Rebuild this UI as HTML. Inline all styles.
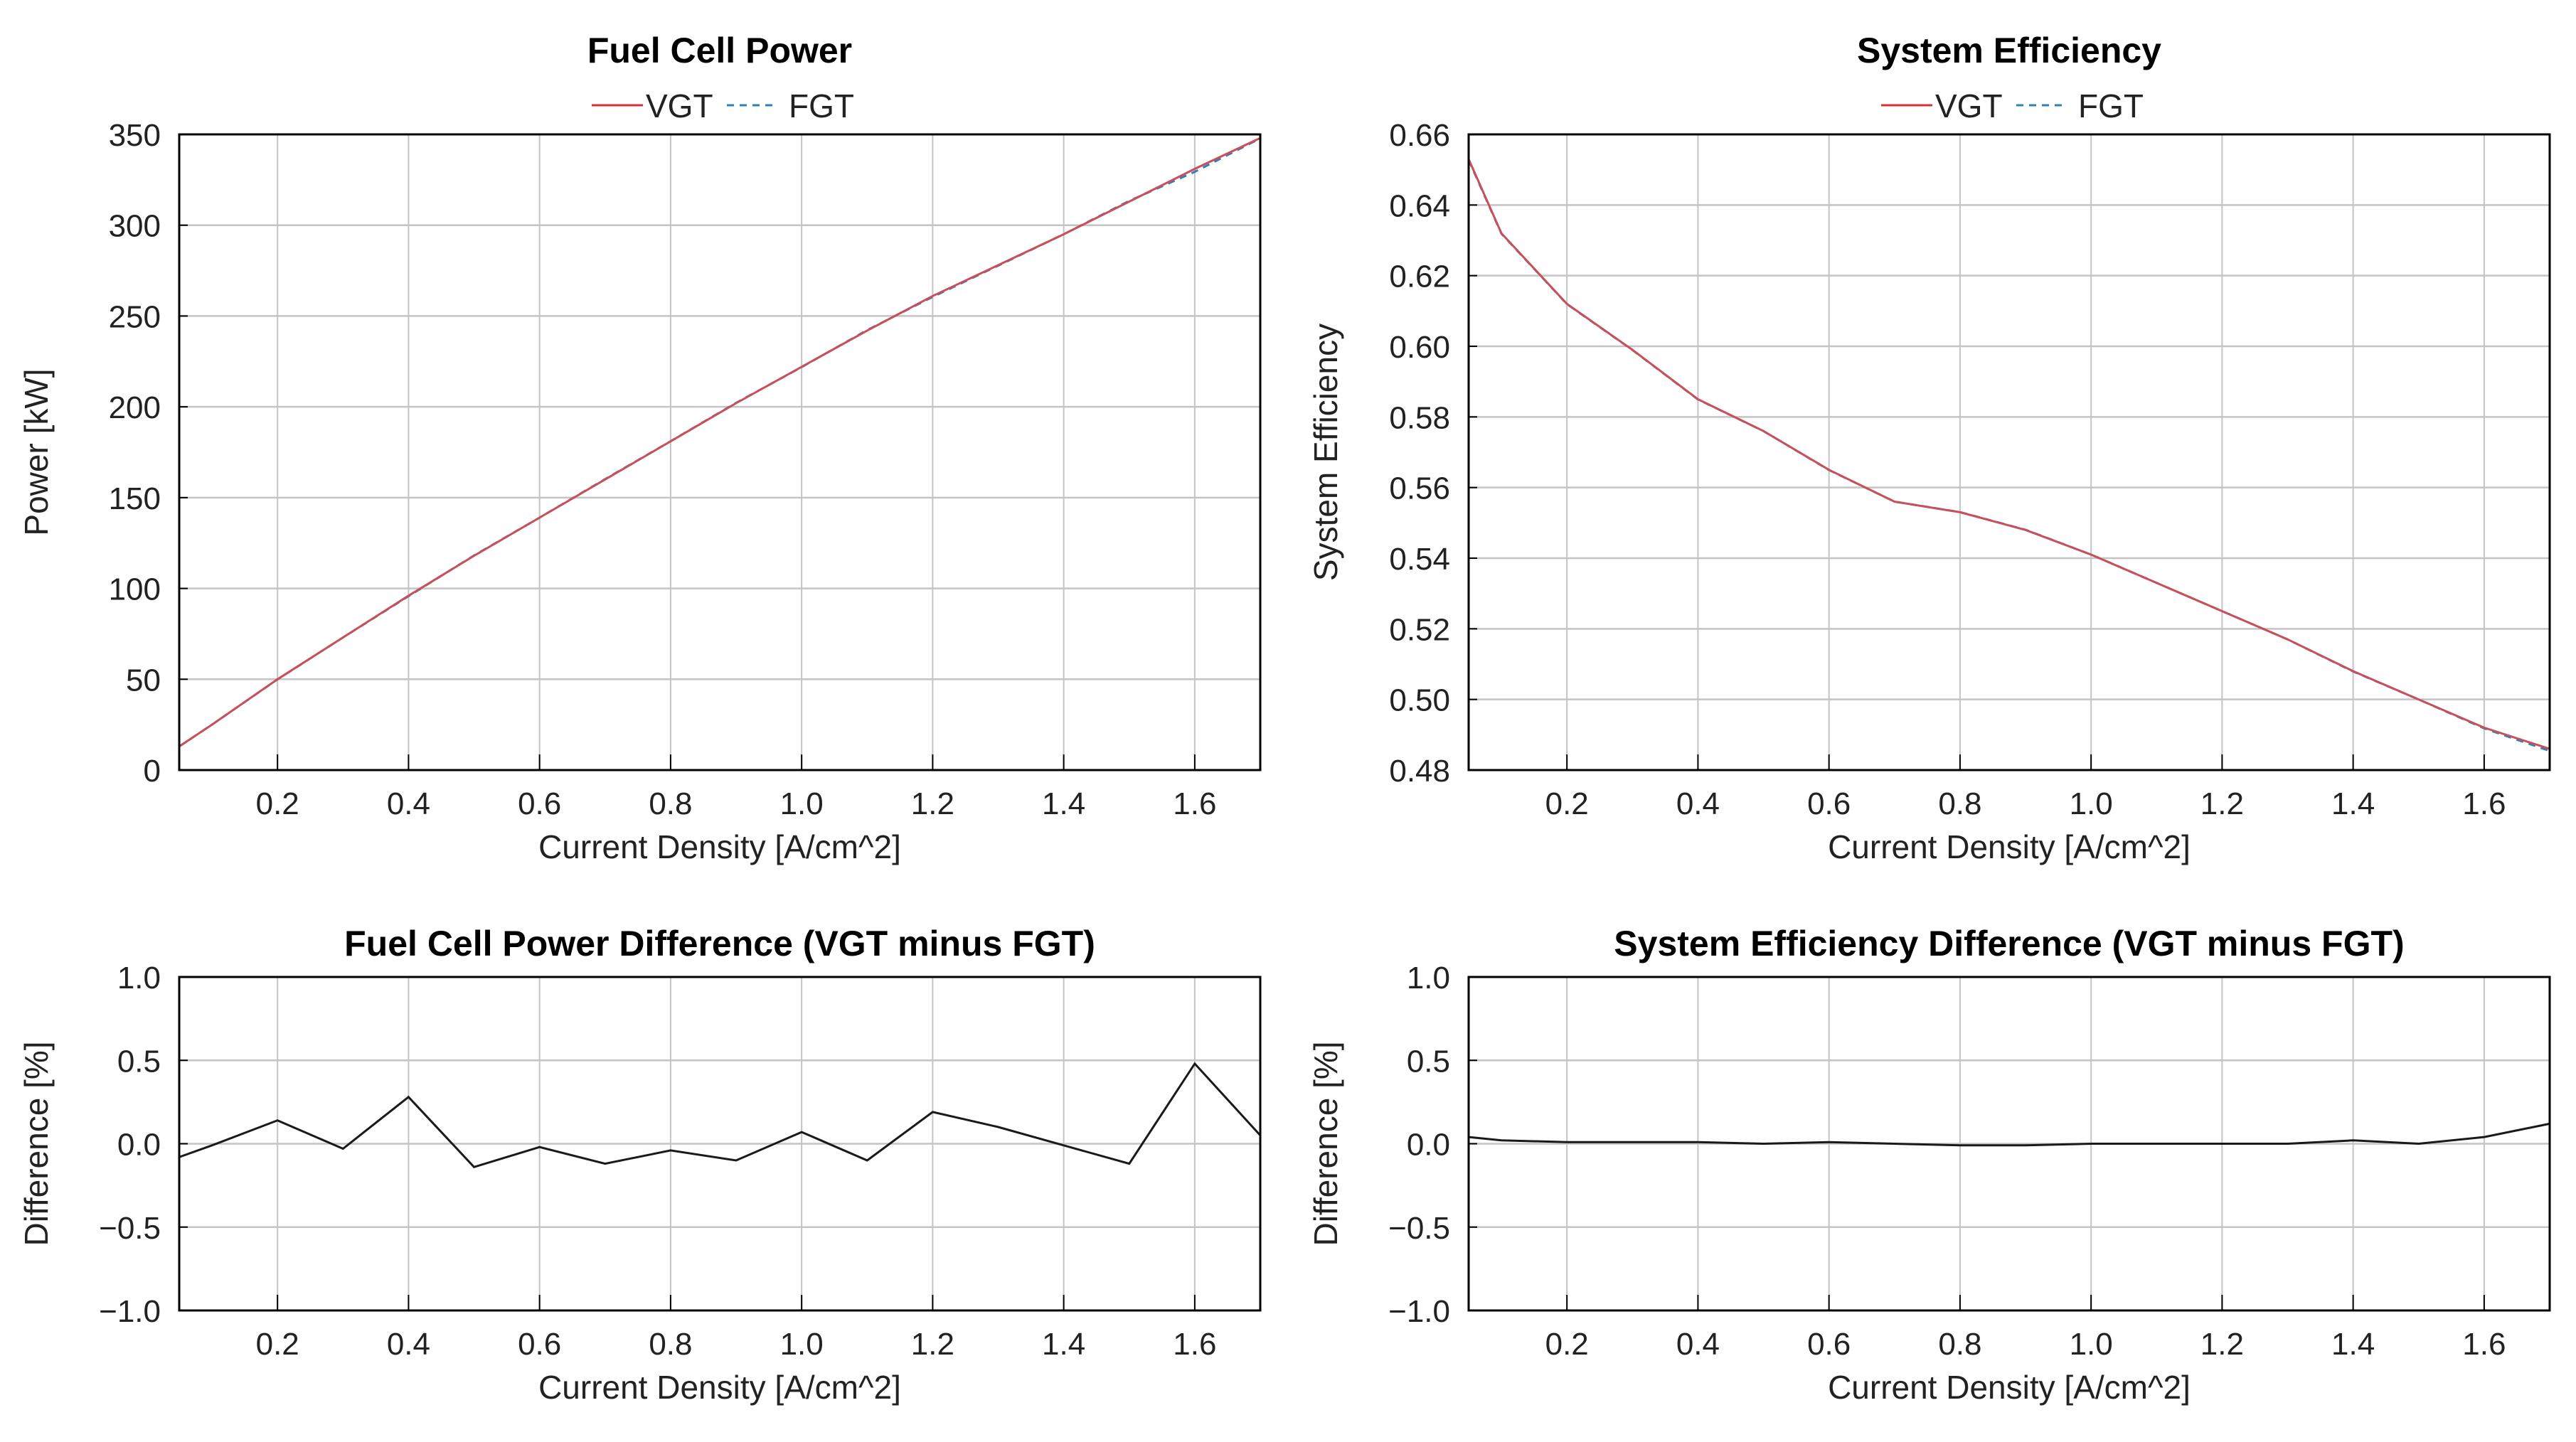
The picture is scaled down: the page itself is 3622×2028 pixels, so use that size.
<!DOCTYPE html>
<html><head><meta charset="utf-8"><style>
html,body{margin:0;padding:0;background:#fff;}
svg{display:block;font-family:"Liberation Sans",Arial,sans-serif;}
</style></head><body>
<svg id="chart" width="3622" height="2028" viewBox="0 0 3622 2028" xmlns="http://www.w3.org/2000/svg"></svg>
<script>
const currentDensity = [0.05,0.1,0.2,0.3,0.4,0.5,0.6,0.7,0.8,0.9,1.0,1.1,1.2,1.3,1.4,1.5,1.6,1.7];
const powerVGT = [13,25,50,73,96,118,139,160,181,202,222,242,261,278,295,313,331,348];
const powerDiff = [-0.08,-0.01,0.14,-0.03,0.28,-0.14,-0.02,-0.12,-0.04,-0.10,0.07,-0.10,0.19,0.10,-0.01,-0.12,0.48,0.05];
const effVGT = [0.653,0.632,0.612,0.599,0.585,0.576,0.565,0.556,0.553,0.548,0.541,0.533,0.525,0.517,0.508,0.500,0.492,0.486];
const effDiff = [0.04,0.02,0.01,0.01,0.01,0.00,0.01,0.00,-0.01,-0.01,0.00,0.00,0.00,0.00,0.02,0.00,0.04,0.12];
const xTicks = [0.2,0.4,0.6,0.8,1.0,1.2,1.4,1.6];
const powerTicks = [0,50,100,150,200,250,300,350];
const effTicks = [0.48,0.50,0.52,0.54,0.56,0.58,0.60,0.62,0.64,0.66];
const diffTicks = [-1.0,-0.5,0.0,0.5,1.0];

const NS="http://www.w3.org/2000/svg";
const svg=document.getElementById('chart');
function mk(tag,attrs,parent,text){const e=document.createElementNS(NS,tag);for(const k in attrs)e.setAttribute(k,attrs[k]);if(text!==undefined)e.textContent=text;(parent||svg).appendChild(e);return e;}

function panel(o){
  const g=mk('g',{});
  
  
  const X=v=>o.x0+(v-0.05)/(1.7-0.05)*(o.x1-o.x0);
  const Y=v=>o.y1-(v-o.ymin)/(o.ymax-o.ymin)*(o.y1-o.y0);
  xTicks.forEach(t=>{
    const l=mk('line',{x1:X(t),x2:X(t),y1:o.y0,y2:o.y1,stroke:'#c4c4c4','stroke-width':2},g);
    
    
    const tk=mk('line',{x1:X(t),x2:X(t),y1:o.y1-22,y2:o.y1,stroke:'#000','stroke-width':2},g);
    
    
    const tx=mk('text',{x:X(t),y:o.y1+62,'text-anchor':'middle','font-size':44,fill:'#222'},g,t.toFixed(1));
    
    
  });
  o.yt.forEach(t=>{
    const l=mk('line',{x1:o.x0,x2:o.x1,y1:Y(t),y2:Y(t),stroke:'#c4c4c4','stroke-width':2.5},g);
    
    
    const tk=mk('line',{x1:o.x0,x2:o.x0+12,y1:Y(t),y2:Y(t),stroke:'#000','stroke-width':2},g);
    
    
    const tx=mk('text',{x:o.x0-26,y:Y(t)+16,'text-anchor':'end','font-size':44,fill:'#222'},g,t.toFixed(o.dec).replace('-','\u2212'));
    
    
  });
  o.series.forEach(s=>{
    const pts=currentDensity.map((c,i)=>X(c).toFixed(1)+','+Y(s.vals[i]).toFixed(1)).join(' ');
    const p=mk('polyline',{points:pts,fill:'none',stroke:s.color,'stroke-width':s.w||3,'stroke-dasharray':s.dash||'none'},g);
    
    
  });
  const fr=mk('rect',{x:o.x0,y:o.y0,width:o.x1-o.x0,height:o.y1-o.y0,fill:'none',stroke:'#000','stroke-width':3},g);
  
  
  const cx=(o.x0+o.x1)/2;
  const ti=mk('text',{x:cx,y:o.titleY,'text-anchor':'middle','font-size':50,'font-weight':'bold',fill:'#000'},g,o.title);
  
  
  const xl=mk('text',{x:cx,y:o.y1+124,'text-anchor':'middle','font-size':46,fill:'#222'},g,'Current Density [A/cm^2]');
  
  
  const ym=(o.y0+o.y1)/2;
  const yl=mk('text',{x:o.x0-185,y:ym,'text-anchor':'middle','font-size':46,fill:'#222',transform:`rotate(-90 ${o.x0-185} ${ym})`},g,o.ylabel);
  
  
  if(o.legend){
    const lg=mk('g',{},g);
    
    
    const ly=148, lx=cx-180;
    mk('line',{x1:lx,x2:lx+72,y1:ly,y2:ly,stroke:'#d0343a','stroke-width':3},lg);
    const t1=mk('text',{x:lx+76,y:ly+17,'font-size':46,fill:'#222'},lg,'VGT');
    
    
    mk('line',{x1:lx+190,x2:lx+258,y1:ly,y2:ly,stroke:'#2f7fb8','stroke-width':3,'stroke-dasharray':'10,8'},lg);
    const t2=mk('text',{x:lx+277,y:ly+17,'font-size':46,fill:'#222'},lg,'FGT');
    
    
  }
}
const powerFGT = powerVGT.map((v,i)=>v/(1+powerDiff[i]/100));
const effFGT = effVGT.map((v,i)=>v/(1+effDiff[i]/100));
const L={x0:252,x1:1772}, R={x0:2065,x1:3585};
const T={y0:189,y1:1083}, B={y0:1374,y1:1843};
panel({name:'fuel-cell-power-panel',x0:L.x0,x1:L.x1,y0:T.y0,y1:T.y1,ymin:0,ymax:350,yt:powerTicks,dec:0,title:'Fuel Cell Power',titleY:88,ylabel:'Power [kW]',legend:true,
  series:[{name:'power-fgt-line',vals:powerFGT,color:'#2f7fb8',dash:'10,8'},{name:'power-vgt-line',vals:powerVGT,color:'#c8505a'}]});
panel({name:'system-efficiency-panel',x0:R.x0,x1:R.x1,y0:T.y0,y1:T.y1,ymin:0.48,ymax:0.66,yt:effTicks,dec:2,title:'System Efficiency',titleY:88,ylabel:'System Efficiency',legend:true,
  series:[{name:'efficiency-fgt-line',vals:effFGT,color:'#2f7fb8',dash:'10,8'},{name:'efficiency-vgt-line',vals:effVGT,color:'#c8505a'}]});
panel({name:'power-difference-panel',x0:L.x0,x1:L.x1,y0:B.y0,y1:B.y1,ymin:-1,ymax:1,yt:diffTicks,dec:1,title:'Fuel Cell Power Difference (VGT minus FGT)',titleY:1344,ylabel:'Difference [%]',
  series:[{name:'power-difference-line',vals:powerDiff,color:'#1a1a1a'}]});
panel({name:'efficiency-difference-panel',x0:R.x0,x1:R.x1,y0:B.y0,y1:B.y1,ymin:-1,ymax:1,yt:diffTicks,dec:1,title:'System Efficiency Difference (VGT minus FGT)',titleY:1344,ylabel:'Difference [%]',
  series:[{name:'efficiency-difference-line',vals:effDiff,color:'#1a1a1a'}]});
</script>
</body></html>
